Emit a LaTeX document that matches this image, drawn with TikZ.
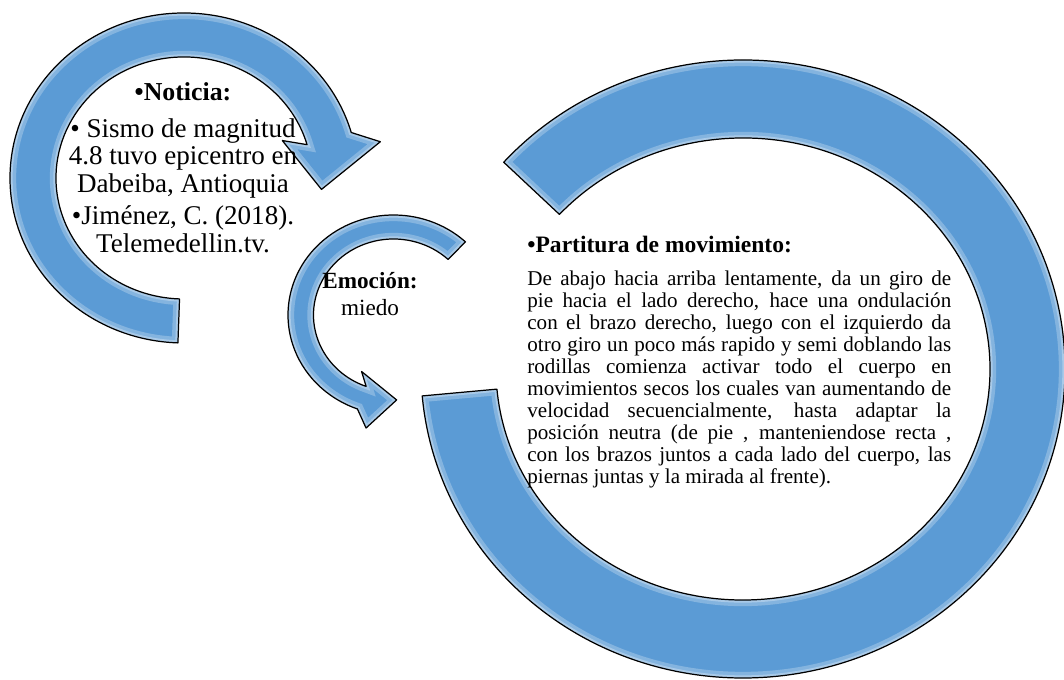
\documentclass[tikz,border=0pt]{standalone}
\usepackage{fontspec}
\setmainfont{Liberation Serif}

\definecolor{cycleblue}{RGB}{91,155,213}

\begin{document}
\begin{tikzpicture}[x=0.02cm,y=0.02cm,
    cyclearrow/.style={fill=cycleblue,
      postaction={draw=white,opacity=.25,line width=7pt},
      postaction={draw=white,opacity=.3,line width=3pt},
      postaction={draw=black,line width=0.7pt,line join=round}}]
    \useasboundingbox (0,0) rectangle (1064,679);

    % noticia
    \begin{scope}[shift={(184,501)}]
      \path[cyclearrow] (268:174 and 165) arc[start angle=268,end angle=16,x radius=174,y radius=165]
        -- (11:200 and 190) -- (-5:138 and 131) -- (22:106 and 100)
        -- (16:128 and 121) arc[start angle=16,end angle=268,x radius=128,y radius=121] -- cycle;
    \end{scope}
    % emocion
    \begin{scope}[shift={(393.5,364)}]
      \path[cyclearrow] (47:105.5 and 100) arc[start angle=47,end angle=250,x radius=105.5,y radius=100]
        -- (257:122 and 116) -- (272:90 and 85) -- (242:68 and 64)
        -- (250:80 and 76) arc[start angle=250,end angle=47,x radius=80,y radius=76] -- cycle;
    \end{scope}
    % partitura
    \begin{scope}[shift={(743,310)}]
      \path[cyclearrow] (138:322 and 309) arc[start angle=138,end angle=-175,x radius=322,y radius=309]
        -- (-175:247 and 231) arc[start angle=-175,end angle=138,x radius=247,y radius=231] -- cycle;
    \end{scope}

    \begin{scope}[every node/.style={inner sep=0pt,align=center}]
      \node[anchor=base,font=\fontsize{14.7}{15.6}\selectfont\bfseries] (noticia) at (183,578) {•Noticia:};
      \node[anchor=north,font=\fontsize{15.4}{15.65}\selectfont] (fuente) at (183,561)
        {• Sismo de magnitud\\4.8 tuvo epicentro en\\Dabeiba, Antioquia\\[3pt]•Jiménez, C. (2018).\\Telemedellin.tv.};
      \node[anchor=north,font=\fontsize{13.2}{15.4}\selectfont] (emocion) at (370,407)
        {\textbf{Emoción:}\\miedo};
      \node[anchor=base west,font=\fontsize{13.4}{15}\selectfont\bfseries] (partitura) at (527,426)
        {•Partitura de movimiento:};
      \node[anchor=north west,text width=8.48cm,align=justify,font=\fontsize{12}{12.5}\selectfont] (movimiento) at (527,408)
        {De abajo hacia arriba lentamente, da un giro de\linebreak
         pie hacia el lado derecho, hace una ondulación\linebreak
         con el brazo derecho, luego con el izquierdo da\linebreak
         otro giro un poco más rapido y semi doblando las\linebreak
         rodillas comienza activar todo el cuerpo en\linebreak
         movimientos secos los cuales van aumentando de\linebreak
         velocidad secuencialmente, hasta adaptar la\linebreak
         posición neutra (de pie , manteniendose recta ,\linebreak
         con los brazos juntos a cada lado del cuerpo, las\linebreak
         piernas juntas y la mirada al frente).};
    \end{scope}
\end{tikzpicture}
\end{document}
